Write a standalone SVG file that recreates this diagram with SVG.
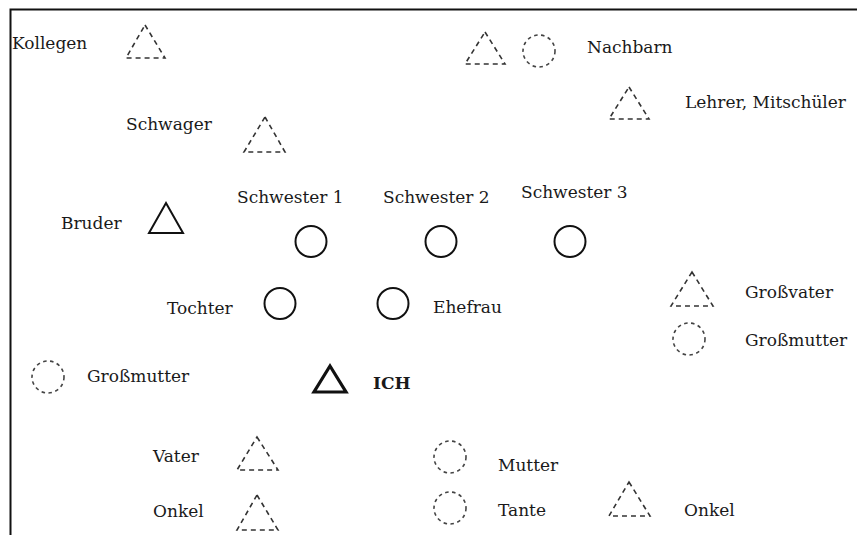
<svg xmlns="http://www.w3.org/2000/svg" width="857" height="535" viewBox="0 0 857 535">
  <style>
    .lbl { font-family: "DejaVu Serif", "Liberation Serif", serif; font-size: 17px; fill: #1a1a1a; }
    .bold { font-weight: bold; }
    .solid { fill: none; stroke: #111; stroke-width: 2; }
    .thick { fill: none; stroke: #111; stroke-width: 3.2; stroke-linejoin: miter; }
    .dtri { fill: none; stroke: #333; stroke-width: 1.6; stroke-dasharray: 5 4; }
    .dcirc { fill: none; stroke: #444; stroke-width: 1.6; stroke-dasharray: 3.5 3.5; }
  </style>
  <rect width="857" height="535" fill="#fff"/>
  <!-- frame (top and left edges only) -->
  <path d="M10.5 535 V9.5 H857" fill="none" stroke="#111" stroke-width="2"/>

  <g id="connectors"/>

  <g id="kollegen">
    <text class="lbl" x="12" y="49">Kollegen</text>
    <polygon class="dtri" points="145,25 165,58 126,58"/>
  </g>
  <g id="nachbarn">
    <polygon class="dtri" points="485,32 505,64 465,64"/>
    <circle class="dcirc" cx="539" cy="51" r="16"/>
    <text class="lbl" x="587" y="53">Nachbarn</text>
  </g>
  <g id="lehrer">
    <polygon class="dtri" points="629,87 649,119 609,119"/>
    <text class="lbl" x="685" y="108">Lehrer, Mitschüler</text>
  </g>
  <g id="schwager">
    <text class="lbl" x="126" y="130">Schwager</text>
    <polygon class="dtri" points="265,117 285,152 244,152"/>
  </g>
  <g id="bruder">
    <text class="lbl" x="61" y="229">Bruder</text>
    <polygon class="solid" points="166,203 183,233 149,233"/>
  </g>
  <g id="schwester1">
    <text class="lbl" x="237" y="203">Schwester 1</text>
    <circle class="solid" cx="311" cy="241.5" r="15.5"/>
  </g>
  <g id="schwester2">
    <text class="lbl" x="383" y="203">Schwester 2</text>
    <circle class="solid" cx="441" cy="241.5" r="15.5"/>
  </g>
  <g id="schwester3">
    <text class="lbl" x="521" y="198">Schwester 3</text>
    <circle class="solid" cx="570" cy="241.5" r="15.5"/>
  </g>
  <g id="tochter">
    <text class="lbl" x="167" y="314">Tochter</text>
    <circle class="solid" cx="280" cy="303.5" r="15.5"/>
  </g>
  <g id="ehefrau">
    <circle class="solid" cx="393" cy="303.5" r="15.5"/>
    <text class="lbl" x="433" y="313">Ehefrau</text>
  </g>
  <g id="grossvater">
    <polygon class="dtri" points="692,272 713,306 671,306"/>
    <text class="lbl" x="745" y="298">Großvater</text>
  </g>
  <g id="grossmutter-r">
    <circle class="dcirc" cx="689" cy="339" r="16"/>
    <text class="lbl" x="745" y="346">Großmutter</text>
  </g>
  <g id="grossmutter-l">
    <circle class="dcirc" cx="48" cy="377" r="16"/>
    <text class="lbl" x="87" y="382">Großmutter</text>
  </g>
  <g id="ich">
    <polygon class="thick" points="330,366 346,392 314,392"/>
    <text class="lbl bold" x="373" y="389">ICH</text>
  </g>
  <g id="vater">
    <text class="lbl" x="153" y="462">Vater</text>
    <polygon class="dtri" points="257,437 278,470 237,470"/>
  </g>
  <g id="onkel-l">
    <text class="lbl" x="153" y="517">Onkel</text>
    <polygon class="dtri" points="257,495 278,530 237,530"/>
  </g>
  <g id="mutter">
    <circle class="dcirc" cx="450" cy="457" r="16"/>
    <text class="lbl" x="498" y="471">Mutter</text>
  </g>
  <g id="tante">
    <circle class="dcirc" cx="450" cy="508" r="16"/>
    <text class="lbl" x="498" y="516">Tante</text>
  </g>
  <g id="onkel-r">
    <polygon class="dtri" points="629,482 650,516 609,516"/>
    <text class="lbl" x="684" y="516">Onkel</text>
  </g>
</svg>
